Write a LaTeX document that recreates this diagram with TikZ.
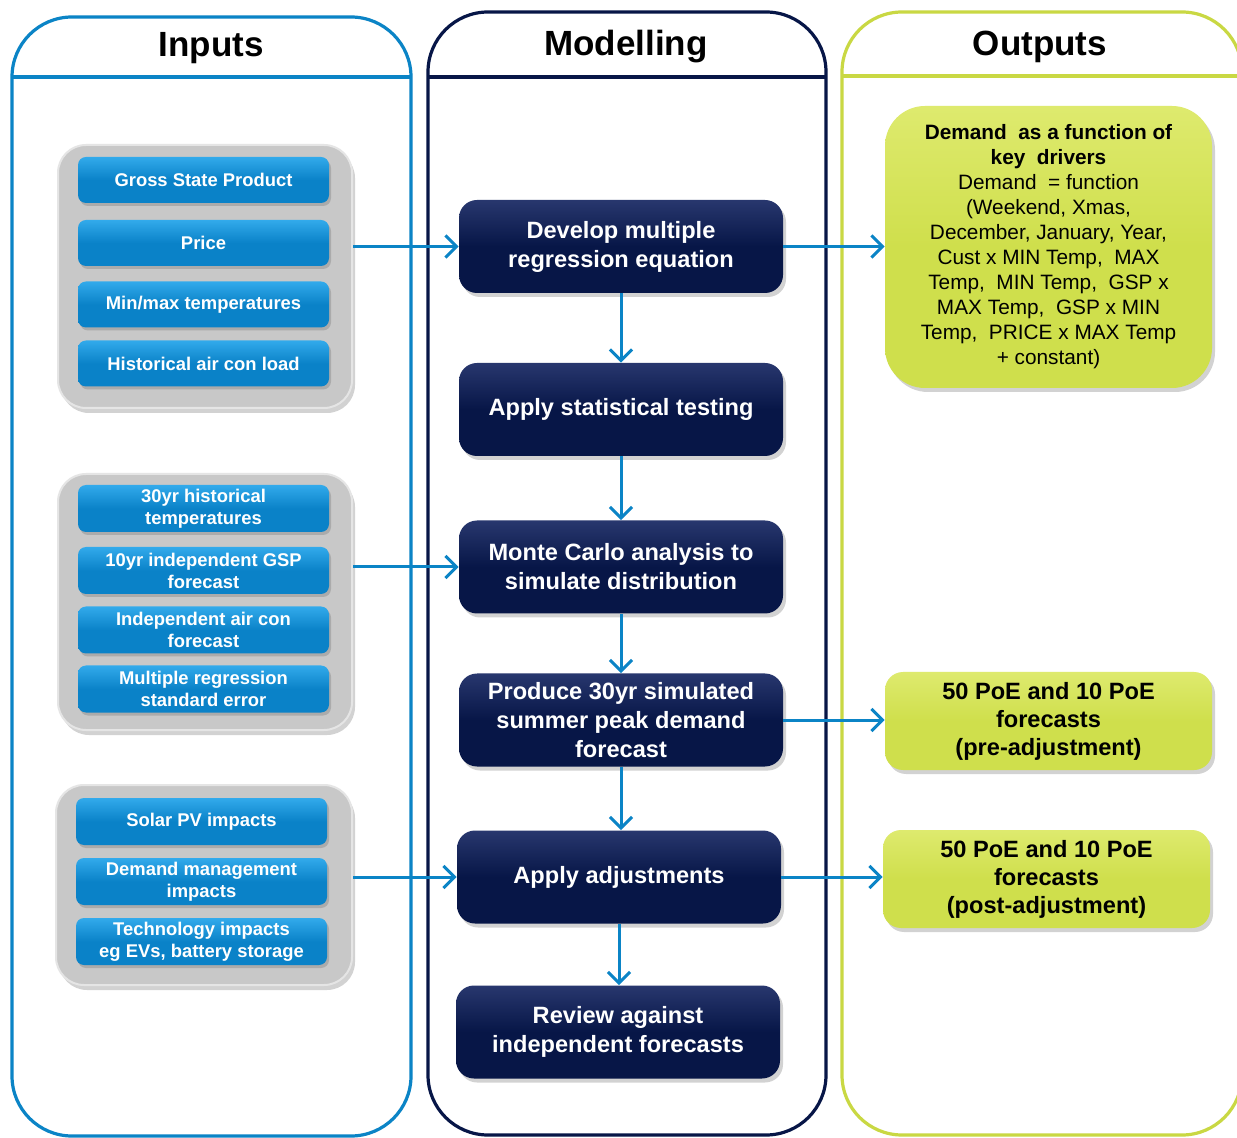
\documentclass[tikz,border=0pt]{standalone}
\usepackage{fontspec}
\setmainfont{Liberation Sans}
\usetikzlibrary{arrows.meta,shadows}

\definecolor{frameblue}{RGB}{11,132,198}
\definecolor{navy}{RGB}{7,22,71}
\definecolor{navytop}{RGB}{40,55,110}
\definecolor{lime}{RGB}{201,216,67}
\definecolor{limefill}{RGB}{207,223,76}
\definecolor{limetop}{RGB}{222,234,110}
\definecolor{boxblue}{RGB}{10,130,200}
\definecolor{boxbluetop}{RGB}{50,170,235}
\definecolor{groupgray}{RGB}{200,200,200}

\tikzset{
  column/.style={line width=1.6pt, rounded corners=30pt},
  groupbox/.style={rounded corners=14pt, fill=groupgray, draw=white!90!black,
    line width=1pt, drop shadow={shadow xshift=1.5pt, shadow yshift=-2.5pt, opacity=0.35}},
  inbox/.style={rounded corners=4pt, top color=boxbluetop, bottom color=boxblue,
    middle color=boxblue, text=white, font=\fontsize{9.2}{11}\selectfont\bfseries,
    minimum width=125.5pt, minimum height=23pt, inner sep=1pt, align=center,
    drop shadow={shadow xshift=1pt, shadow yshift=-1.5pt, opacity=0.4}},
  stepbox/.style={rounded corners=9pt, top color=navytop, bottom color=navy,
    middle color=navy, text=white, font=\fontsize{11.8}{14.5}\selectfont\bfseries,
    minimum width=162pt, minimum height=46.5pt, inner sep=1pt, align=center,
    drop shadow={shadow xshift=1.5pt, shadow yshift=-2pt, opacity=0.35}},
  outbox/.style={rounded corners=9pt, top color=limetop, bottom color=limefill,
    middle color=limefill, text=black, font=\fontsize{11.8}{14}\selectfont\bfseries,
    minimum width=163.5pt, minimum height=49pt, inner sep=1pt, align=center,
    drop shadow={shadow xshift=1.5pt, shadow yshift=-2pt, opacity=0.35}},
  flow/.style={draw=frameblue, line width=1.5pt,
    -{Straight Barb[length=5.5pt, width=11pt, line width=1.5pt]}},
  title/.style={font=\fontsize{17.5}{20}\selectfont\bfseries, text=black}
}

\begin{document}
\begin{tikzpicture}[x=0.5pt, y=-0.5pt]
\useasboundingbox (0,0) rectangle (1237,1138);
\fill[white] (0,0) rectangle (1237,1138);

\begin{scope}
\clip (0,0) rectangle (1237,1138);
% column frames with header rules
\draw[column, draw=frameblue] (12,17) rectangle (411,1136);
\draw[draw=frameblue, line width=1.6pt] (12,77) -- (411,77);
\draw[column, draw=navy] (428,12) rectangle (826,1135);
\draw[draw=navy, line width=1.6pt] (428,77) -- (826,77);
\draw[column, draw=lime] (842,12) rectangle (1242,1135);
\draw[draw=lime, line width=1.6pt] (842,76) -- (1242,76);
\end{scope}

\node[title] (tin) at (211,48) {Inputs};
\node[title] (tmod) at (626,47) {Modelling};
\node[title] (tout) at (1040,47) {Outputs};

% input groups
\node[groupbox, minimum width=147pt, minimum height=131.5pt] (g1) at (205,276.5) {};
\node[inbox] (i1) at (203.5,180) {Gross State Product};
\node[inbox] (i2) at (203.5,243) {Price};
\node[inbox] (i3) at (203.5,304.5) {Min/max temperatures};
\node[inbox] (i4) at (203.5,363.5) {Historical air con load};

\node[groupbox, minimum width=147pt, minimum height=128pt] (g2) at (205,602) {};
\node[inbox, minimum height=23.5pt] (i5) at (203.5,508.5) {30yr historical\\temperatures};
\node[inbox, minimum height=23.5pt] (i6) at (203.5,570.5) {10yr independent GSP\\forecast};
\node[inbox, minimum height=23.5pt] (i7) at (203.5,630) {Independent air con\\forecast};
\node[inbox, minimum height=23.5pt] (i8) at (203.5,689) {Multiple regression\\standard error};

\node[groupbox, minimum width=148pt, minimum height=100pt] (g3) at (204,885) {};
\node[inbox, minimum height=23.5pt] (i9) at (201.5,821.5) {Solar PV impacts};
\node[inbox, minimum height=23.5pt] (i10) at (201.5,881.5) {Demand management\\impacts};
\node[inbox, minimum height=23.5pt] (i11) at (201.5,941.5) {Technology impacts\\eg EVs, battery storage};

% modelling steps
\node[stepbox] (m1) at (621,246.5) {Develop multiple\\regression equation};
\node[stepbox] (m2) at (621,409.5) {Apply statistical testing};
\node[stepbox] (m3) at (621,567) {Monte Carlo analysis to\\simulate distribution};
\node[stepbox] (m4) at (621,720) {Produce 30yr simulated\\summer peak demand\\forecast};
\node[stepbox] (m5) at (619,877) {Apply adjustments};
\node[stepbox] (m6) at (618,1032) {Review against\\independent forecasts};

% outputs
\node[outbox, minimum height=141pt, rounded corners=20pt,
      font=\fontsize{10.4}{12.5}\selectfont] (o1) at (1048.5,247)
  {\textbf{Demand\ \ as a function of}\\\textbf{key\ \ drivers}\\
   Demand\ \ = function\\(Weekend, Xmas,\\December, January, Year,\\
   Cust x MIN Temp,\ \ MAX\\Temp,\ \ MIN Temp,\ \ GSP x\\MAX Temp,\ \ GSP x MIN\\
   Temp,\ \ PRICE x MAX Temp\\+ constant)};
\node[outbox] (o2) at (1048.5,721) {50 PoE and 10 PoE\\forecasts\\(pre-adjustment)};
\node[outbox] (o3) at (1046.5,879) {50 PoE and 10 PoE\\forecasts\\(post-adjustment)};

% connectors
\draw[flow] (g1.east |- m1.west) -- (m1.west);
\draw[flow] (g2.east |- m3.west) -- (m3.west);
\draw[flow] (g3.east |- m5.west) -- (m5.west);
\draw[flow] (m1.east) -- (o1.west |- m1.east);
\draw[flow] (m4.east) -- (o2.west |- m4.east);
\draw[flow] (m5.east) -- (o3.west |- m5.east);
\draw[flow] (m1.south) -- (m2.north);
\draw[flow] (m2.south) -- (m3.north);
\draw[flow] (m3.south) -- (m4.north);
\draw[flow] (m4.south) -- (m4.south |- m5.north);
\draw[flow] (m5.south) -- (m5.south |- m6.north);
\end{tikzpicture}
\end{document}
